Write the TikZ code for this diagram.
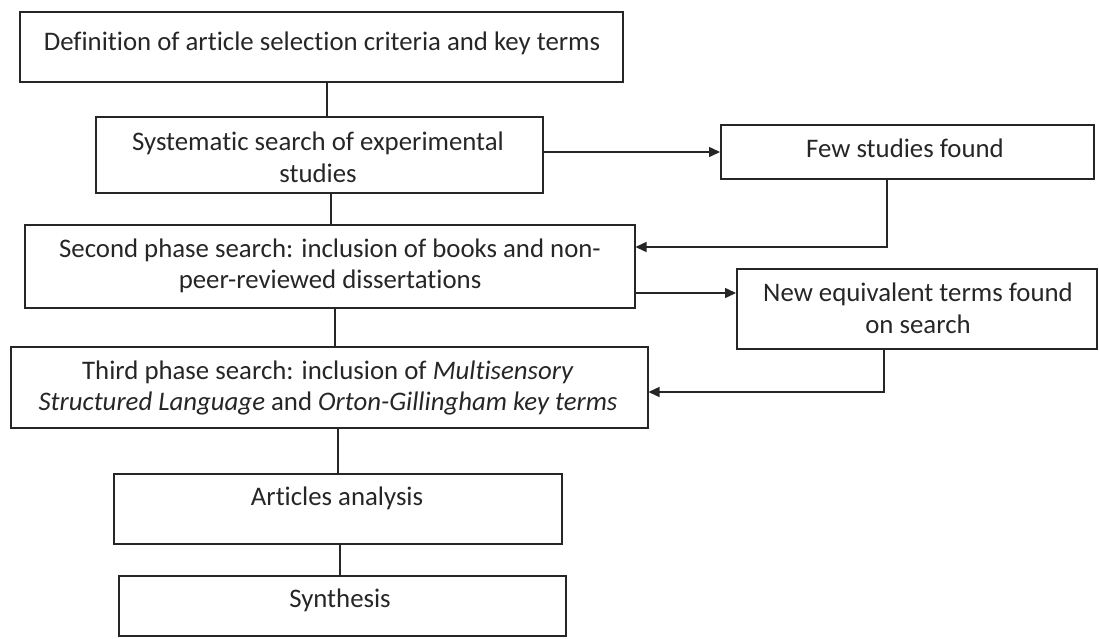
\documentclass[tikz,border=0pt]{standalone}
\usepackage{fontspec}
\setmainfont{Carlito}[Ligatures=NoCommon]
\usetikzlibrary{arrows.meta}
\begin{document}
\begin{tikzpicture}[x=1pt,y=-1pt,
  box/.style={draw=black!85, line width=1.5pt, anchor=north west, inner sep=0pt},
  txt/.style={text=black!85, align=center, font=\fontsize{26.8}{31.6}\selectfont, inner sep=0pt},
  link/.style={draw=black!85, line width=1.5pt},
  arr/.style={link, -{Triangle[length=11pt,width=10pt]}}]
\useasboundingbox (0,0) rectangle (1099,638);
% boxes
\node[box, minimum width=603pt, minimum height=70pt] (b1) at (19,11) {};
\node[box, minimum width=447pt, minimum height=76pt] (b2) at (95,116) {};
\node[box, minimum width=610pt, minimum height=83pt] (b3) at (24,224) {};
\node[box, minimum width=637pt, minimum height=81pt] (b4) at (10,346) {};
\node[box, minimum width=448pt, minimum height=70pt] (b5) at (113,473) {};
\node[box, minimum width=447pt, minimum height=60pt] (b6) at (118,575) {};
\node[box, minimum width=373pt, minimum height=54pt] (few) at (720,124) {};
\node[box, minimum width=360pt, minimum height=80pt] (new) at (736,268) {};
% texts
\node[txt] (t1) at (322,43) {Definition of article selection criteria and key terms};
\node[txt] (t2) at (318,157.5) {Systematic search of experimental\\studies};
\node[txt] (t3) at (330,266) {Second phase search: inclusion of books and non-\\peer-reviewed dissertations};
\node[txt] (t4) at (328,388) {Third phase search: inclusion of \textit{Multisensory}\\\textit{Structured Language} and \textit{Orton-Gillingham key terms}};
\node[txt] (t5) at (337,498) {Articles analysis};
\node[txt] (t6) at (340,600) {Synthesis};
\node[txt] (tf) at (905,148) {Few studies found};
\node[txt] (tn) at (918,308.5) {New equivalent terms found\\on search};
% vertical links
\coordinate (c1) at (327,0);
\coordinate (c2) at (331,0);
\coordinate (c3) at (335,0);
\coordinate (c4) at (338,0);
\coordinate (c5) at (340,0);
\draw[link] (b1.south -| c1) -- (b2.north -| c1);
\draw[link] (b2.south -| c2) -- (b3.north -| c2);
\draw[link] (b3.south -| c3) -- (b4.north -| c3);
\draw[link] (b4.south -| c4) -- (b5.north -| c4);
\draw[link] (b5.south -| c5) -- (b6.north -| c5);
% side arrows
\coordinate (r1) at (0,152);
\coordinate (d1) at (887,247);
\coordinate (r2) at (0,293);
\coordinate (d2) at (884,392);
\draw[arr] (b2.east |- r1) -- (few.west |- r1);
\draw[arr] (few.south -| d1) |- (b3.east |- d1);
\draw[arr] (b3.east |- r2) -- (new.west |- r2);
\draw[arr] (new.south -| d2) |- (b4.east |- d2);
\end{tikzpicture}
\end{document}
